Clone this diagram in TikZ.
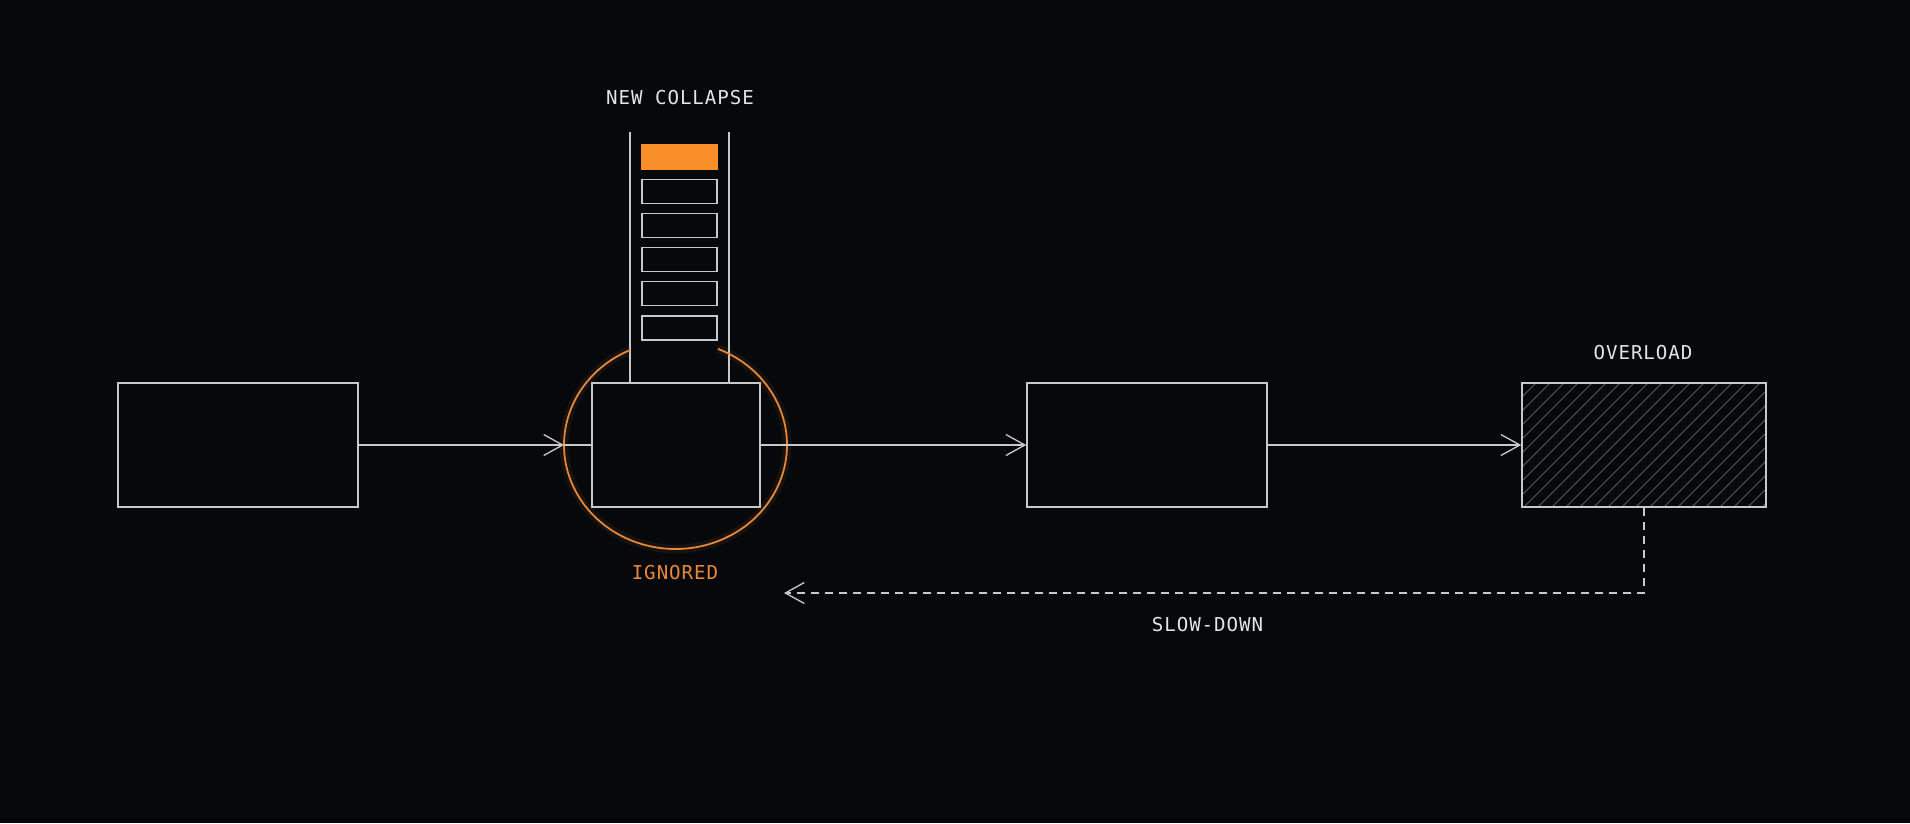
\documentclass[tikz,border=0pt]{standalone}
\usepackage{fontspec}
\usetikzlibrary{arrows.meta}
\newfontfamily\tagfont{DejaVu Sans Mono}[LetterSpace=5]
\definecolor{bg}{HTML}{07080B}
\definecolor{wire}{HTML}{C8C8C8}
\definecolor{hatchgray}{HTML}{5C5C5C}
\definecolor{glow}{HTML}{E8883A}
\definecolor{slotfill}{HTML}{F78E28}
\definecolor{tagwhite}{HTML}{E4E4E4}

\begin{document}
\begin{tikzpicture}[x=0.02cm, y=-0.02cm,
  box/.style={draw=wire, line width=0.9pt, minimum height=2.48cm, inner sep=0pt},
  slot/.style={draw=wire, line width=0.7pt, minimum width=1.5cm, minimum height=0.48cm, inner sep=0pt},
  flow/.style={wire, line width=0.75pt, -{Straight Barb[length=0.38cm, width=0.42cm, line width=0.75pt]}},
  tag/.style={text=tagwhite, font=\tagfont\fontsize{10.9}{12}\selectfont, inner sep=0pt}]

\fill[bg] (0,0) rectangle (1910,823);

% boxes
\node[box, minimum width=4.8cm] (src) at (238,445) {};
\node[box, minimum width=3.36cm] (mid) at (676,445) {};
\node[box, minimum width=4.8cm] (next) at (1147,445) {};
\node[box, minimum width=4.88cm] (sink) at (1644,445) {};

% hatch on the overloaded box
\begin{scope}
\clip (sink.south west) rectangle (sink.north east);
\foreach \k in {0,14,...,378}
  \draw[hatchgray, line width=0.45pt] (1398+\k,507) -- ++(124,-124);
\end{scope}
\node[box, minimum width=4.88cm] at (sink) {};

% queue above the middle box
\draw[wire, line width=0.8pt] (630,132) -- (630,383);
\draw[wire, line width=0.8pt] (729,132) -- (729,383);
\node[slot, fill=slotfill, draw=slotfill] (slot0) at (679.5,157) {};
\foreach \i in {1,...,5}
  \node[slot] (slot\i) at (679.5,157+34.2*\i) {};

% ring round the middle box
\coordinate (hub) at (675.5,445);
\draw[glow, line width=5pt, opacity=0.08] ([shift={(114.1:2.23cm and 2.08cm)}]hub)
  arc[start angle=114.1, end angle=427.6, x radius=2.23cm, y radius=2.08cm];
\draw[glow, line width=1pt] ([shift={(114.1:2.23cm and 2.08cm)}]hub)
  arc[start angle=114.1, end angle=427.6, x radius=2.23cm, y radius=2.08cm];
\coordinate (ringW) at (564,445);
\coordinate (back) at (784,593);

% connectors
\draw[flow] (src.east) -- (ringW);
\draw[wire, line width=0.75pt] (ringW) -- (mid.west);
\draw[flow] (mid.east) -- (next.west);
\draw[flow] (next.east) -- (sink.west);
\draw[flow, dash pattern=on 0.16cm off 0.12cm] (sink.south) |- (back);

% labels
\node[tag] (collapse) at (680,98) {NEW COLLAPSE};
\node[tag, text=glow] (ignored) at (675,573) {IGNORED};
\node[tag] (overload) at (1643,352.5) {OVERLOAD};
\node[tag] (slowdown) at (1207.5,625) {SLOW-DOWN};
\end{tikzpicture}
\end{document}
